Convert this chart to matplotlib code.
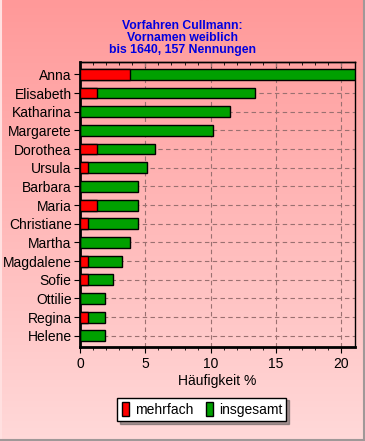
import numpy as np
import matplotlib
matplotlib.use('Agg')
import matplotlib.pyplot as plt
from matplotlib.patches import Patch

# Daten: Anteile in % (157 Nennungen)
namen = ['Anna', 'Elisabeth', 'Katharina', 'Margarete', 'Dorothea', 'Ursula',
         'Barbara', 'Maria', 'Christiane', 'Martha', 'Magdalene', 'Sofie',
         'Ottilie', 'Regina', 'Helene']
insgesamt = [21.02, 13.38, 11.46, 10.19, 5.73, 5.10, 4.46, 4.46, 4.46, 3.82,
             3.18, 2.55, 1.91, 1.91, 1.91]
mehrfach = [3.82, 1.27, 0, 0, 1.27, 0.64, 0, 1.27, 0.64, 0, 0.64, 0.64, 0,
            0.64, 0]
titel = 'Vorfahren Cullmann:\nVornamen weiblich\nbis 1640, 157 Nennungen'

plt.rcParams['font.family'] = ['Liberation Sans', 'DejaVu Sans']

fig = plt.figure(figsize=(3.65, 4.41), dpi=100)

# Hintergrund mit Farbverlauf
bg = fig.add_axes([0, 0, 1, 1], zorder=-10)
grad = np.linspace(0, 1, 256).reshape(-1, 1)
top = np.array([1.0, 0.60, 0.60])
bottom = np.array([1.0, 0.85, 0.85])
img = top + grad[..., None] * (bottom - top)
bg.imshow(img.reshape(256, 1, 3), aspect='auto', extent=[0, 1, 0, 1])
bg.set_xlim(0, 1)
bg.set_ylim(0, 1)
bg.plot([0.002, 0.002], [0, 1], color='#ffe0e0', lw=1.5)
bg.plot([0.997, 0.997], [0, 1], color='#a09898', lw=1.5)
bg.plot([0, 1], [0.003, 0.003], color='#a09898', lw=1.5)
bg.axis('off')

ax = fig.add_axes([0.219, 0.213, 0.754, 0.646])
ax.patch.set_alpha(0)
y = np.arange(len(namen))
ax.barh(y, insgesamt, height=0.58, color='#00a000', edgecolor='black',
        linewidth=1, zorder=3)
ax.barh(y, mehrfach, height=0.58, color='#ff0000', edgecolor='black',
        linewidth=1, zorder=4)

ax.set_xlim(0, 21.05)
ax.set_ylim(14.6, -0.65)
ax.set_yticks(y)
ax.set_yticklabels(namen, fontsize=10)
ax.set_xticks([0, 5, 10, 15, 20])
ax.set_xticks(np.arange(0, 21), minor=True)
ax.tick_params(axis='x', labelsize=10, direction='out', length=4, pad=3)
ax.tick_params(axis='x', which='minor', length=2.5)
ax.tick_params(axis='y', direction='out', length=4, pad=2)
ax.grid(True, linestyle=(0, (4, 3)), color='#9a7070', linewidth=0.8, zorder=1)
ax.set_axisbelow(True)

# Ticks oben nach innen
sec = ax.secondary_xaxis('top')
sec.set_xticks([0, 5, 10, 15, 20])
sec.set_xticks(np.arange(0, 21), minor=True)
sec.tick_params(direction='in', length=4, labeltop=False)
sec.tick_params(which='minor', direction='in', length=2.5)
sec.spines['top'].set_linewidth(1)

ax.spines['left'].set_linewidth(2)
ax.spines['bottom'].set_linewidth(2)
ax.spines['top'].set_linewidth(1)
ax.spines['right'].set_linewidth(1)

ax.set_xlabel('Häufigkeit %', fontsize=10, labelpad=2)

fig.text(0.5, 0.955, titel, ha='center', va='top', color='#0000e0',
         fontsize=8.8, fontweight='bold', linespacing=1.0)

handles = [Patch(facecolor='#ff0000', edgecolor='black', label='mehrfach'),
           Patch(facecolor='#00a000', edgecolor='black', label='insgesamt')]
leg = fig.legend(handles=handles, loc='center', bbox_to_anchor=(0.553, 0.072),
                 ncol=2, fontsize=10, frameon=True, fancybox=False, shadow=True,
                 handlelength=0.55, handleheight=1.2, handletextpad=0.4,
                 columnspacing=0.9, borderpad=0.3, borderaxespad=0)
leg.get_frame().set_edgecolor('black')
leg.get_frame().set_facecolor('white')
leg.get_frame().set_alpha(1)

fig.savefig('out.png', dpi=100)
